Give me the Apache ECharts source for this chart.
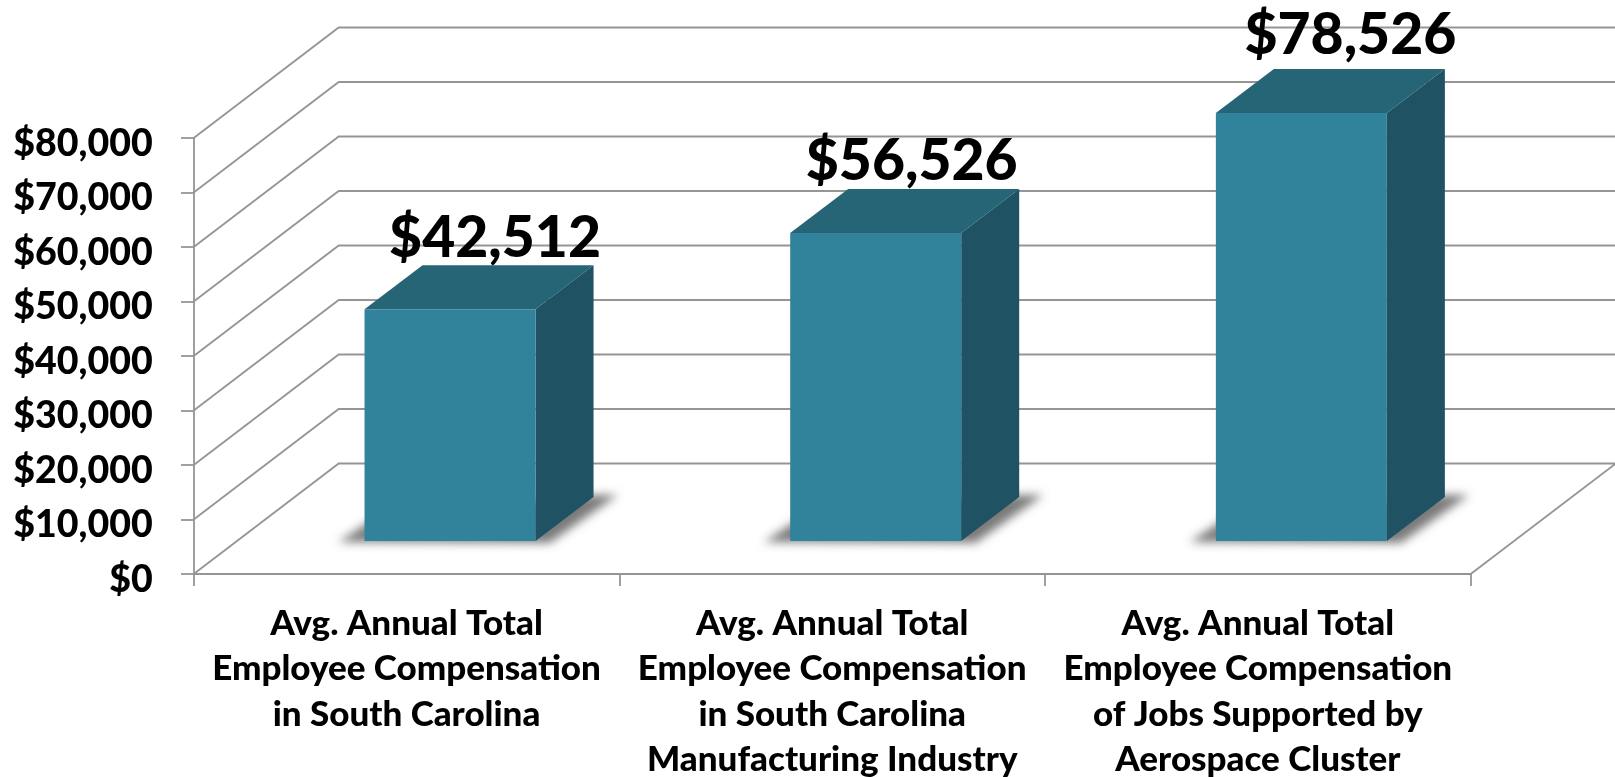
<!DOCTYPE html>
<html>
<head>
<meta charset="utf-8">
<style>
  html, body { margin: 0; padding: 0; background: #fff; }
  #chart { width: 1615px; height: 777px; }
</style>
<script src="https://cdn.jsdelivr.net/npm/echarts@6/dist/echarts.min.js"></script>
</head>
<body>
<div id="chart"></div>
<script>
const categories = [
  'Avg. Annual Total\nEmployee Compensation\nin South Carolina',
  'Avg. Annual Total\nEmployee Compensation\nin South Carolina\nManufacturing Industry',
  'Avg. Annual Total\nEmployee Compensation\nof Jobs Supported by\nAerospace Cluster'
];
const compensation = [42512, 56526, 78526];
const wallLevels = [0, 10000, 20000, 30000, 40000, 50000, 60000, 70000, 80000];

const FONT = 'Lato, Carlito, Calibri, sans-serif';
const GRID_COLOR = '#959595';
const GRID_WIDTH = 1.8;

// fake 3d: the floor runs up and to the right of the axis plane
const FLOOR_DX = 145;
const FLOOR_DY = 110.5;
// bars stand part way into the floor
const BAR_DX = 43.5;
const BAR_DY = 33;
const BAR_DEPTH_DX = 58;
const BAR_DEPTH_DY = 44;
const BAR_WIDTH = 171;
// value labels sit by hand in the original
const labelShift = [[-13, 2], [-22, 1], [-9, -5]];
// shadow shape is drawn off the page so that only its blur lands on the floor
const OFF_PAGE = 4000;

const chart = echarts.init(document.getElementById('chart'), null, { renderer: 'canvas' });

function renderWall(params, api) {
  const band = api.size([1, 0])[0];
  const p = api.coord([0, api.value(1)]);
  const x0 = p[0] - band / 2;
  const x1 = x0 + band * categories.length;
  const y = p[1];
  const shape = { points: [[x0, y], [x0 + FLOOR_DX, y - FLOOR_DY], [x1 + FLOOR_DX, y - FLOOR_DY]] };
  // the floor also gets its right hand edge
  if (api.value(1) === 0) shape.points.push([x1, y]);
  return {
    type: 'polyline',
    shape: shape,
    style: { fill: null, stroke: GRID_COLOR, lineWidth: GRID_WIDTH }
  };
}

function renderBar(params, api) {
  const base = api.coord([api.value(0), 0]);
  const top = api.coord([api.value(0), api.value(1)]);
  const l = base[0] + BAR_DX - BAR_WIDTH / 2;
  const r = l + BAR_WIDTH;
  const b = base[1] - BAR_DY;
  const t = top[1] - BAR_DY;
  const dx = BAR_DEPTH_DX;
  const dy = BAR_DEPTH_DY;
  const shift = labelShift[params.dataIndex];
  const shadowPoints = [[l - 26, b + 1], [l + 12, b - 24], [r + dx, b - dy - 2], [r + dx + 24, b - dy - 2], [r + 14, b + 2]];
  return {
    type: 'group',
    children: [
      {
        type: 'polygon',
        shape: { points: shadowPoints.map(pt => [pt[0] - OFF_PAGE, pt[1]]) },
        style: {
          fill: '#000',
          shadowBlur: 10,
          shadowOffsetX: OFF_PAGE,
          shadowColor: 'rgba(70,70,70,0.72)'
        }
      },
      {
        type: 'polygon',
        shape: { points: [[l, t], [l + dx, t - dy], [r + dx, t - dy], [r, t]] },
        style: { fill: '#266576' }
      },
      {
        type: 'polygon',
        shape: { points: [[r, t], [r + dx, t - dy], [r + dx, b - dy], [r, b]] },
        style: { fill: '#1f5363' }
      },
      {
        type: 'rect',
        shape: { x: l, y: t, width: BAR_WIDTH, height: b - t },
        style: { fill: '#30839a' }
      },
      {
        type: 'text',
        z2: 10,
        style: {
          x: l + dx + BAR_WIDTH / 2 + shift[0],
          y: t - dy + shift[1],
          text: '$' + api.value(1).toLocaleString('en-US'),
          align: 'center',
          verticalAlign: 'bottom',
          fill: '#000',
          font: '900 57px ' + FONT
        }
      }
    ]
  };
}

chart.setOption({
  backgroundColor: '#fff',
  animation: false,
  // labels run to the page edge, keep the grid where it was put
  grid: { left: 193.7, right: 144.3, top: 138, bottom: 203, outerBoundsMode: 'none' },
  xAxis: {
    type: 'category',
    data: categories,
    axisLine: { lineStyle: { color: GRID_COLOR, width: GRID_WIDTH } },
    axisTick: { show: true, alignWithLabel: false, length: 12, lineStyle: { color: GRID_COLOR, width: GRID_WIDTH } },
    axisLabel: {
      interval: 0,
      margin: 27,
      color: '#000',
      fontFamily: FONT,
      fontWeight: 900,
      fontSize: 35,
      lineHeight: 45.3
    }
  },
  yAxis: {
    type: 'value',
    min: 0,
    max: 80000,
    interval: 10000,
    splitLine: { show: false },
    axisLine: { show: true, lineStyle: { color: GRID_COLOR, width: GRID_WIDTH } },
    axisTick: { show: true, length: 12.7, lineStyle: { color: GRID_COLOR, width: GRID_WIDTH } },
    axisLabel: {
      margin: 41,
      color: '#000',
      fontFamily: FONT,
      fontWeight: 900,
      fontSize: 37.5,
      // labels hang a little below their ticks in the original
      verticalAlign: 'top',
      lineHeight: 11,
      formatter: v => '$' + v.toLocaleString('en-US')
    }
  },
  series: [
    {
      type: 'custom',
      z: 1,
      silent: true,
      renderItem: renderWall,
      data: wallLevels.map(v => [0, v])
    },
    {
      type: 'custom',
      z: 3,
      silent: true,
      renderItem: renderBar,
      data: compensation.map((v, i) => [i, v])
    }
  ]
});

window.addEventListener('resize', () => chart.resize());
</script>
</body>
</html>
